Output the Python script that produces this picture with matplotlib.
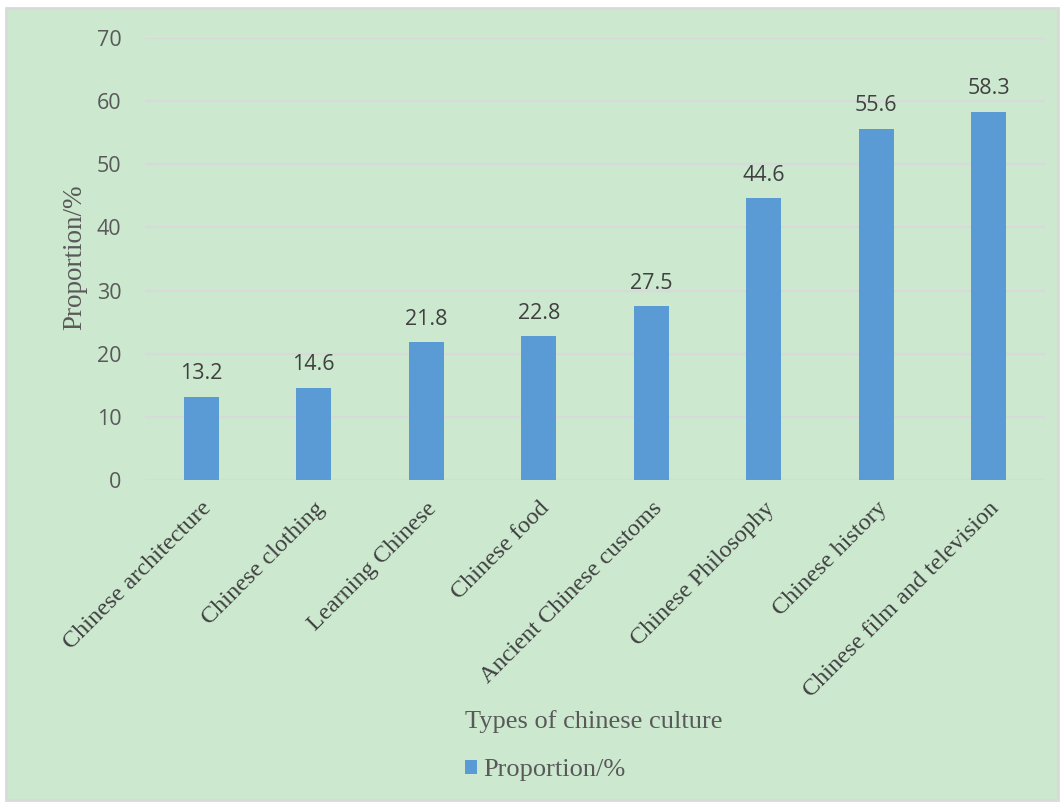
import numpy as np
import matplotlib.pyplot as plt
from matplotlib.patches import Rectangle

categories = ['Chinese architecture', 'Chinese clothing', 'Learning Chinese', 'Chinese food',
              'Ancient Chinese customs', 'Chinese Philosophy', 'Chinese history',
              'Chinese film and television']
values = [13.2, 14.6, 21.8, 22.8, 27.5, 44.6, 55.6, 58.3]
yticks = [0, 10, 20, 30, 40, 50, 60, 70]

bg = '#CCE8CF'
bar_color = '#5B9BD5'
grid_color = '#D9D9D9'
serif = 'Liberation Serif'
sans = 'Open Sans'

fig = plt.figure(figsize=(10.64, 8.05), dpi=100, facecolor='white')
fig.patches.append(Rectangle((6 / 1064, 5 / 805), 1052 / 1064, 792 / 805, transform=fig.transFigure,
                             facecolor=bg, edgecolor=grid_color, linewidth=2, zorder=-10))

ax = fig.add_axes([145 / 1064, 1 - 480 / 805, 900 / 1064, 442 / 805])
ax.set_facecolor('none')

x = np.arange(len(categories))
bars = ax.bar(x, values, width=0.31, color=bar_color, zorder=3)

for xi, v in zip(x, values):
    ax.annotate(f'{v}', (xi, v), xytext=(0, 9), textcoords='offset points',
                ha='center', va='bottom', fontsize=15.5, family=sans, color='#404040')

ax.set_xlim(-0.5, len(categories) - 0.5)
ax.set_ylim(0, 70)
ax.set_yticks(yticks)
ax.set_yticklabels([str(t) for t in yticks], fontsize=15.5, family=sans, color='#595959')
ax.yaxis.grid(True, color=grid_color, linewidth=1.5, zorder=0)
ax.tick_params(axis='both', length=0)
ax.tick_params(axis='y', pad=17)
for s in ax.spines.values():
    s.set_visible(False)

ax.set_xticks(x)
ax.set_xticklabels(categories, rotation=45, ha='right', rotation_mode='anchor',
                   fontsize=17.5, family=serif, color='#404040')
ax.tick_params(axis='x', pad=13)

fig.text(75 / 1064, 0.681, 'Proportion/%', rotation=90, ha='center', va='center',
         fontsize=19.5, family=serif, color='#595959')
fig.text(594 / 1064, 1 - 722 / 805, 'Types of chinese culture', ha='center', va='center',
         fontsize=19, family=serif, color='#595959')

leg = fig.legend([bars], ['Proportion/%'], loc='center', bbox_to_anchor=(545 / 1064, 1 - 770 / 805),
                 frameon=False, handlelength=0.45, handleheight=0.45, handletextpad=0.25,
                 prop={'family': serif, 'size': 19})
for t in leg.get_texts():
    t.set_color('#595959')

plt.savefig('out.png', dpi=100)
